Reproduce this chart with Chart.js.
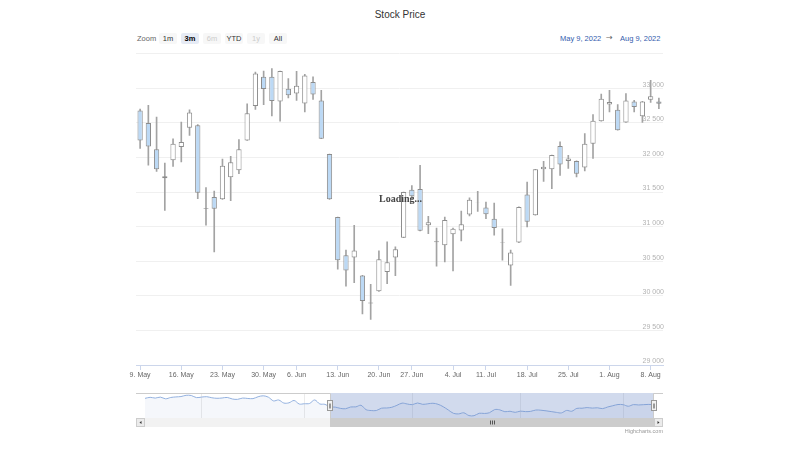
<!DOCTYPE html>
<html><head><meta charset="utf-8">
<script src="https://cdn.jsdelivr.net/npm/chart.js@4.4.1/dist/chart.umd.min.js"></script>
<style>
html,body{margin:0;padding:0;background:#fff;}
#wrap{position:relative;width:800px;height:450px;overflow:hidden;font-family:"Liberation Sans",Arial,Helvetica,sans-serif;}
canvas{position:absolute;left:0;}
.t{position:absolute;white-space:nowrap;line-height:1;}
.btn{position:absolute;top:33px;width:18px;height:11px;background:#f7f7f7;border-radius:2px;font-size:7.5px;color:#333;text-align:center;line-height:11px;}
</style></head><body><div id="wrap">
<div class="t" style="left:0;width:800px;text-align:center;top:10px;font-size:10px;color:#333;">Stock Price</div>
<div class="t" style="left:137px;top:34.5px;font-size:7.5px;color:#666;">Zoom</div>
<div class="btn" style="left:159px;">1m</div>
<div class="btn" style="left:181px;background:#e6ebf5;font-weight:bold;color:#000;">3m</div>
<div class="btn" style="left:203px;color:#cccccc;">6m</div>
<div class="btn" style="left:225px;">YTD</div>
<div class="btn" style="left:247px;color:#cccccc;">1y</div>
<div class="btn" style="left:269px;">All</div>
<div class="t" style="left:560px;top:34.5px;font-size:7.5px;color:#335cad;">May 9, 2022</div>
<div class="t" style="left:606px;top:34px;font-size:8px;color:#666;font-family:'DejaVu Sans',sans-serif;">→</div>
<div class="t" style="left:620px;top:34.5px;font-size:7.5px;color:#335cad;">Aug 9, 2022</div>
<canvas id="main" width="800" height="390" style="top:0;"></canvas>
<canvas id="nav" width="800" height="50" style="top:388px;"></canvas>
<div class="t" style="left:379px;top:194px;font-size:10px;font-weight:bold;font-family:'Liberation Serif','Times New Roman',serif;color:#444;">Loading...</div>
<div class="t" style="right:137px;top:428.5px;font-size:5.5px;color:#999;">Highcharts.com</div>
</div>
<script>
const days = ['2022-05-09','2022-05-10','2022-05-11','2022-05-12','2022-05-13','2022-05-16','2022-05-17','2022-05-18','2022-05-19','2022-05-20','2022-05-23','2022-05-24','2022-05-25','2022-05-26','2022-05-27','2022-05-31','2022-06-01','2022-06-02','2022-06-03','2022-06-06','2022-06-07','2022-06-08','2022-06-09','2022-06-10','2022-06-13','2022-06-14','2022-06-15','2022-06-16','2022-06-17','2022-06-21','2022-06-22','2022-06-23','2022-06-24','2022-06-27','2022-06-28','2022-06-29','2022-06-30','2022-07-01','2022-07-05','2022-07-06','2022-07-07','2022-07-08','2022-07-11','2022-07-12','2022-07-13','2022-07-14','2022-07-15','2022-07-18','2022-07-19','2022-07-20','2022-07-21','2022-07-22','2022-07-25','2022-07-26','2022-07-27','2022-07-28','2022-07-29','2022-08-01','2022-08-02','2022-08-03','2022-08-04','2022-08-05','2022-08-08','2022-08-09'];
const open  = [32680,32500,32120,31700,31960,32150,32430,32465,31265,31430,31395,31715,31815,32245,32745,33165,33165,32810,32995,32925,32780,33090,32825,32050,31140,30585,30555,30295,29905,30065,30345,30555,30840,31535,31545,31020,30790,30730,30890,30945,31175,31345,31275,31115,30765,30440,30770,31465,31165,31830,31830,32165,31950,31950,31855,32200,32525,32765,32690,32505,32810,32595,32835,32810];
const high  = [32700,32755,32585,31920,32270,32510,32690,32475,31565,31515,31975,32015,32260,32775,33235,33250,33285,33250,33140,33245,33200,33165,32970,32050,31140,30660,31020,30295,30165,30650,30780,30710,31500,31595,31885,31150,30980,31140,30980,31225,31415,31510,31355,31340,30970,30660,31285,31645,31830,31945,32035,32225,32030,31950,32345,32620,32915,32970,32765,32925,32825,32810,33115,32860];
const low   = [32130,31890,31800,31235,31870,31935,32320,31405,31020,30635,31395,31375,31765,32245,32695,32765,32600,32525,32860,32825,32660,32840,32270,31395,30385,30140,30190,29740,29660,30065,30175,30290,30840,31405,30940,30900,30430,30490,30360,30795,31155,31220,31115,30875,30515,30150,30770,30995,31165,31655,31550,31740,31840,31720,31805,31985,32525,32660,32395,32505,32660,32505,32795,32705];
const close = [32245,32160,31830,31730,32200,32225,32650,31490,31255,31260,31880,31930,32120,32640,33215,32990,32815,33250,32900,33035,33185,32910,32270,31395,30515,30365,30655,29925,29890,30530,30485,30675,31500,31440,30940,31065,30775,31095,30970,31035,31390,31340,31180,30980,30770,30625,31285,31070,31830,31865,32035,31900,31985,31765,32200,32530,32850,32800,32395,32825,32730,32810,32885,32775];
const xTickDates  = ['2022-05-09','2022-05-16','2022-05-23','2022-05-31','2022-06-06','2022-06-13','2022-06-21','2022-06-27','2022-07-05','2022-07-11','2022-07-18','2022-07-25','2022-08-01','2022-08-08'];
const xTickLabels = ['9. May','16. May','23. May','30. May','6. Jun','13. Jun','20. Jun','27. Jun','4. Jul','11. Jul','18. Jul','25. Jul','1. Aug','8. Aug'];
const yMin = 29000, yMax = 33500, yStep = 500;

const navEarlyDays = ['2022-03-17','2022-03-18','2022-03-21','2022-03-22','2022-03-23','2022-03-24','2022-03-25','2022-03-28','2022-03-29','2022-03-30','2022-03-31','2022-04-01','2022-04-04','2022-04-05','2022-04-06','2022-04-07','2022-04-08','2022-04-11','2022-04-12','2022-04-13','2022-04-14','2022-04-18','2022-04-19','2022-04-20','2022-04-21','2022-04-22','2022-04-25','2022-04-26','2022-04-27','2022-04-28','2022-04-29','2022-05-02','2022-05-03','2022-05-04','2022-05-05','2022-05-06'];
const navEarlyClose = [34480,34750,34550,34810,34360,34710,34860,34960,35290,35230,34680,34820,34920,34640,34500,34580,34720,34310,34220,34560,34450,34410,34910,35160,34790,33810,34050,33240,33300,33920,32980,33060,33130,34060,33000,32900];
const navTickDates  = ['2022-04-01','2022-05-02','2022-06-01','2022-07-01','2022-08-01'];
const navTickLabels = ["Apr '22","May '22","Jun '22","Jul '22","Aug '22"];
const navMin = 29280, navMax = 35900;

const FONT = "'Liberation Sans', Arial, Helvetica, sans-serif";
Chart.defaults.font.family = FONT;

const xLabelMap = {};
xTickDates.forEach((d, k) => { xLabelMap[days.indexOf(d)] = xTickLabels[k]; });
const fmt = v => String(v).replace(/\B(?=(\d{3})+(?!\d))/g, ' ');

const lineCol = '#8c8c8c';
const wickCol = '#a3a3a3';
new Chart(document.getElementById('main'), {
  type: 'bar',
  data: {
    labels: days,
    datasets: [
      { data: days.map((d, i) => [low[i], high[i]]), backgroundColor: wickCol, barThickness: 1, grouped: false, order: 2 },
      { data: days.map((d, i) => [Math.min(open[i], close[i]), Math.max(open[i], close[i])]),
        backgroundColor: days.map((d, i) => close[i] < open[i] ? '#bcd9f5' : '#ffffff'),
        borderColor: lineCol, borderWidth: 1, borderSkipped: false,
        barPercentage: 0.64, categoryPercentage: 1, grouped: false, order: 1 }
    ]
  },
  options: {
    responsive: false, animation: false, events: [],
    plugins: { legend: { display: false }, tooltip: { enabled: false } },
    layout: { padding: { left: 136, right: 137, top: 53.7, bottom: 5 } },
    scales: {
      x: {
        type: 'category', offset: true,
        grid: { offset: false, drawOnChartArea: false, drawTicks: true, tickLength: 5, color: '#ccd6eb' },
        border: { display: true, color: '#ccd6eb' },
        ticks: { autoSkip: false, maxRotation: 0, minRotation: 0, color: '#666', font: { size: 7 }, padding: 1,
                 callback: v => (xLabelMap[v] !== undefined ? xLabelMap[v] : '') },
        afterBuildTicks: s => { s.ticks = s.ticks.filter(t => xLabelMap[t.value] !== undefined); },
        afterFit: s => { s.height = 20; }
      },
      y: {
        position: 'right', min: yMin, max: yMax,
        grid: { color: '#f0f0f0', drawTicks: false },
        border: { display: false },
        ticks: { mirror: true, padding: 1, labelOffset: -3.5, stepSize: yStep, color: '#b3b3b3', font: { size: 7 },
                 callback: v => (v >= yMax ? '' : fmt(v)) },
        afterBuildTicks: s => { s.ticks = s.ticks.filter(t => t.value % yStep === 0); },
        afterFit: s => { s.width = 0; }
      }
    }
  }
});

const navDays = navEarlyDays.concat(days);
const navClose = navEarlyClose.concat(close);
const navLabelMap = {};
navTickDates.forEach((d, k) => { navLabelMap[navDays.indexOf(d)] = navTickLabels[k]; });
const selStart = navDays.indexOf(days[0]);

const navPlugin = {
  id: 'navDeco',
  afterDraw(chart) {
    const ctx = chart.ctx, ca = chart.chartArea, xs = chart.scales.x;
    const x0 = xs.getPixelForValue(selStart), x1 = xs.getPixelForValue(navDays.length - 1);
    const top = ca.top, bot = ca.bottom, sbH = 9, L = ca.left - 9, R = ca.right + 9;
    ctx.save();
    ctx.fillStyle = 'rgba(102,133,194,0.3)';
    ctx.fillRect(x0, top, x1 - x0, bot - top);
    ctx.fillStyle = '#f2f2f2'; ctx.fillRect(L, bot, R - L, sbH);
    ctx.fillStyle = '#cccccc'; ctx.fillRect(x0, bot, x1 - x0, sbH);
    ctx.fillStyle = '#ebebeb';
    ctx.fillRect(L, bot, 9, sbH); ctx.fillRect(R - 9, bot, 9, sbH);
    ctx.strokeStyle = '#cccccc'; ctx.lineWidth = 1;
    ctx.strokeRect(L + 0.5, bot + 0.5, 8, sbH - 1); ctx.strokeRect(R - 8.5, bot + 0.5, 8, sbH - 1);
    ctx.fillStyle = '#333';
    const my = bot + sbH / 2;
    ctx.beginPath(); ctx.moveTo(L + 3.5, my); ctx.lineTo(L + 5.5, my - 1.5); ctx.lineTo(L + 5.5, my + 1.5); ctx.closePath(); ctx.fill();
    ctx.beginPath(); ctx.moveTo(R - 3.5, my); ctx.lineTo(R - 5.5, my - 1.5); ctx.lineTo(R - 5.5, my + 1.5); ctx.closePath(); ctx.fill();
    ctx.strokeStyle = '#555';
    const cx = Math.round((x0 + x1) / 2);
    for (let k = -1; k <= 1; k++) {
      ctx.beginPath(); ctx.moveTo(cx + k * 2 + 0.5, my - 2); ctx.lineTo(cx + k * 2 + 0.5, my + 2); ctx.stroke();
    }
    ctx.strokeStyle = '#cccccc';
    ctx.beginPath();
    ctx.moveTo(L, top + 0.5); ctx.lineTo(Math.round(x0) + 0.5, top + 0.5);
    ctx.lineTo(Math.round(x0) + 0.5, bot + sbH - 0.5); ctx.lineTo(Math.round(x1) - 0.5, bot + sbH - 0.5);
    ctx.lineTo(Math.round(x1) - 0.5, top + 0.5); ctx.lineTo(R, top + 0.5);
    ctx.stroke();
    const hy = Math.round((top + bot) / 2);
    [x0, x1].forEach(hx => {
      const rx = Math.round(hx) - 2.5;
      ctx.fillStyle = '#f2f2f2'; ctx.fillRect(rx, hy - 5.5, 5, 10);
      ctx.strokeStyle = '#999'; ctx.strokeRect(rx, hy - 5.5, 5, 10);
      ctx.strokeStyle = '#999';
      ctx.beginPath(); ctx.moveTo(rx + 2, hy - 2.5); ctx.lineTo(rx + 2, hy + 2.5);
      ctx.moveTo(rx + 3, hy - 2.5); ctx.lineTo(rx + 3, hy + 2.5); ctx.stroke();
    });
    ctx.restore();
  }
};

new Chart(document.getElementById('nav'), {
  type: 'line',
  data: { labels: navDays, datasets: [{ data: navClose, borderColor: '#93b1df', borderWidth: 1, pointRadius: 0,
    tension: 0.35, fill: 'start', backgroundColor: 'rgba(51,92,173,0.05)' }] },
  options: {
    responsive: false, animation: false, events: [],
    plugins: { legend: { display: false }, tooltip: { enabled: false } },
    layout: { padding: { left: 145, right: 146, top: 5, bottom: 20 } },
    scales: {
      x: {
        type: 'category', offset: false,
        grid: { color: '#ebebeb', drawTicks: false, offset: false },
        border: { display: false },
        ticks: { autoSkip: false, maxRotation: 0, minRotation: 0, align: 'start', labelOffset: 2, padding: -7.5,
                 color: '#999', font: { size: 7 },
                 callback: v => (navLabelMap[v] !== undefined ? navLabelMap[v] : '') },
        afterBuildTicks: s => { s.ticks = s.ticks.filter(t => navLabelMap[t.value] !== undefined); },
        afterFit: s => { s.height = 0; }
      },
      y: { display: false, min: navMin, max: navMax }
    }
  },
  plugins: [navPlugin]
});
</script>
</body></html>
